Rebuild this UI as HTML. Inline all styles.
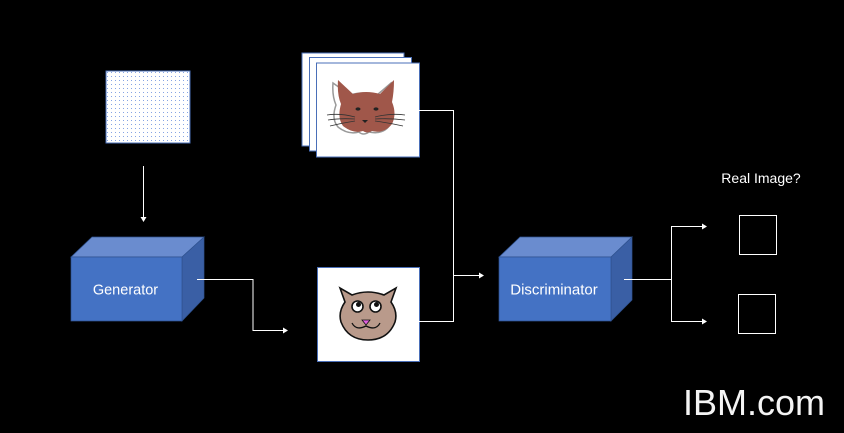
<!DOCTYPE html>
<html><head><meta charset="utf-8"><style>
html,body{margin:0;padding:0;background:#000;}
svg{display:block;}
</style></head><body>
<svg width="844" height="433" viewBox="0 0 844 433" xmlns="http://www.w3.org/2000/svg">
<defs>
<pattern id="dots" x="106" y="71" width="4" height="4" patternUnits="userSpaceOnUse">
<rect width="4" height="4" fill="#ffffff"/>
<rect x="1" y="1" width="1" height="1" fill="#86a4e4"/>
</pattern>
</defs>
<rect width="844" height="433" fill="#000"/>

<!-- noise -->
<rect x="106" y="71" width="84" height="72" fill="url(#dots)" stroke="#4a6fb8" stroke-width="1"/>
<line x1="143.5" y1="166" x2="143.5" y2="219" stroke="#fff" stroke-width="1"/>
<polygon points="140.5,217 146.5,217 143.5,222" fill="#fff"/>

<!-- Generator -->
<polygon points="71,257 92,237 204,237 182,257" fill="#6a8ccf" stroke="#2f528f" stroke-width="0.7"/>
<polygon points="182,257 204,237 204,298 182,321" fill="#3a5fa5" stroke="#2f528f" stroke-width="0.7"/>
<rect x="71" y="257" width="111" height="64" fill="#4472c4" stroke="#2f528f" stroke-width="0.7"/>
<text x="125.5" y="294.5" font-family="Liberation Sans, sans-serif" font-size="14.5" fill="#fff" text-anchor="middle">Generator</text>

<polyline points="197,279.5 253,279.5 253,330.5 284,330.5" fill="none" stroke="#fff" stroke-width="1"/>
<polygon points="283,327.5 283,333.5 288,330.5" fill="#fff"/>

<!-- real image stack -->
<rect x="302" y="53" width="102" height="93" fill="#fff" stroke="#4a6fb8" stroke-width="1"/>
<rect x="309.5" y="57.5" width="102" height="93.5" fill="#fff" stroke="#4a6fb8" stroke-width="1"/>
<rect x="316.5" y="63" width="103" height="94" fill="#fff" stroke="#4a6fb8" stroke-width="1"/>
<!-- brown cat -->
<g>
<path d="M336,82 Q335,95 339,104 Q334,118 341,126 Q351,134 362,131 Q366,135 372,131 Q386,134 393,124 Q398,114 393,102 Q395,92 394,82 L380,94 Q366,90 353,94 Z" fill="none" stroke="#999" stroke-width="1.5" transform="translate(-3,1)"/>
<path d="M338,80 Q337,95 341,104 Q337,118 343,126 Q353,134 363,131 Q367,134 372,131 Q384,134 392,124 Q397,114 392,102 Q394,92 394,80 L380,94 Q366,90 353,94 Z" fill="#a0574a"/>
<ellipse cx="358" cy="109" rx="2.5" ry="1.6" fill="#222"/>
<ellipse cx="376" cy="109" rx="2.5" ry="1.6" fill="#222"/>
<path d="M362,120 L368,120 L365,123 Z" fill="#222"/>
<g stroke="#333" stroke-width="0.8" fill="none">
<path d="M355,117 Q340,113 327,115"/>
<path d="M355,119 Q340,118 328,120"/>
<path d="M355,121 Q342,123 330,126"/>
<path d="M375,117 Q390,113 405,115"/>
<path d="M375,119 Q390,118 405,120"/>
<path d="M375,121 Q390,123 403,126"/>
</g>
</g>
<line x1="419" y1="110.5" x2="454" y2="110.5" stroke="#fff" stroke-width="1"/>

<!-- fake image -->
<rect x="317.5" y="267.5" width="102" height="94" fill="#fff" stroke="#4a6fb8" stroke-width="1"/>
<g stroke="#111" stroke-width="1.6">
<path d="M340,288 L345,302 Q338,312 341,322 Q348,340 368,340 Q388,340 395,322 Q398,312 391,302 L396,288 L384,295 Q368,289 352,295 Z" fill="#b99a8b"/>
<circle cx="357.5" cy="306.5" r="5.5" fill="#fff"/>
<circle cx="375.5" cy="306.5" r="5.5" fill="#fff"/>
</g>
<circle cx="358.5" cy="304.5" r="2.5" fill="#111"/>
<circle cx="376.5" cy="304.5" r="2.5" fill="#111"/>
<path d="M362,320 L370,320 L366,325 Z" fill="#e060e0" stroke="#111" stroke-width="0.8"/>
<path d="M352,323 Q356,331 366,326 Q376,331 380,323" fill="none" stroke="#111" stroke-width="1.3"/>

<line x1="419" y1="321.5" x2="454" y2="321.5" stroke="#fff" stroke-width="1"/>
<line x1="453.5" y1="110" x2="453.5" y2="322" stroke="#fff" stroke-width="1"/>
<line x1="453" y1="275.5" x2="480" y2="275.5" stroke="#fff" stroke-width="1"/>
<polygon points="479,272.5 479,278.5 484,275.5" fill="#fff"/>

<!-- Discriminator -->
<polygon points="499,257 520,237 632,237 611,257" fill="#6a8ccf" stroke="#2f528f" stroke-width="0.7"/>
<polygon points="611,257 632,237 632,300 611,321" fill="#3a5fa5" stroke="#2f528f" stroke-width="0.7"/>
<rect x="499" y="257" width="112" height="64" fill="#4472c4" stroke="#2f528f" stroke-width="0.7"/>
<text x="554" y="294.5" font-family="Liberation Sans, sans-serif" font-size="15" fill="#fff" text-anchor="middle">Discriminator</text>

<line x1="624" y1="279.5" x2="671" y2="279.5" stroke="#fff" stroke-width="1"/>
<line x1="671.5" y1="226.5" x2="671.5" y2="322" stroke="#fff" stroke-width="1"/>
<line x1="671" y1="226.5" x2="703" y2="226.5" stroke="#fff" stroke-width="1"/>
<line x1="671" y1="321.5" x2="703" y2="321.5" stroke="#fff" stroke-width="1"/>
<polygon points="702,223.5 702,229.5 707,226.5" fill="#fff"/>
<polygon points="702,318.5 702,324.5 707,321.5" fill="#fff"/>

<rect x="739.5" y="215.5" width="37" height="39" fill="none" stroke="#fff" stroke-width="1"/>
<rect x="738.5" y="294.5" width="37" height="39" fill="none" stroke="#fff" stroke-width="1"/>
<text x="761" y="183" font-family="Liberation Sans, sans-serif" font-size="14" fill="#fff" text-anchor="middle">Real Image?</text>

<text x="754" y="415" font-family="Liberation Sans, sans-serif" font-size="36" fill="#f4f4f4" text-anchor="middle">IBM.com</text>
</svg>
</body></html>
